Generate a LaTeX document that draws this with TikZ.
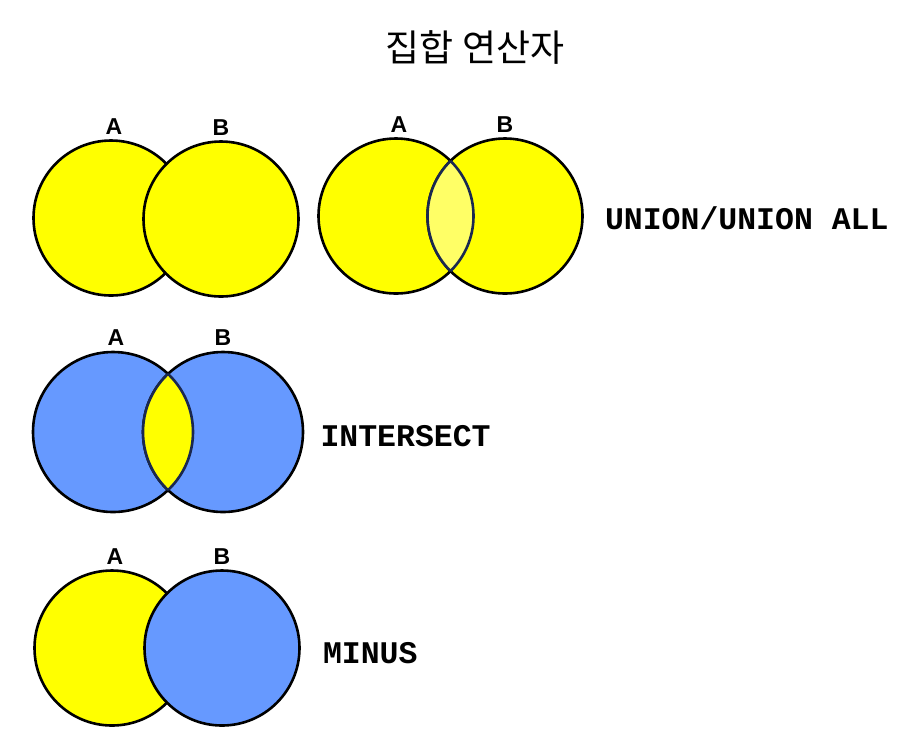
\documentclass[tikz,border=0pt]{standalone}
\usepackage{fontspec}
\setmainfont{Liberation Sans}
\setmonofont{Liberation Mono}
\newfontfamily\krfont{Noto Sans CJK KR}
\usetikzlibrary{positioning}
\definecolor{setyellow}{HTML}{FFFF00}
\definecolor{setblue}{HTML}{6699FF}
\definecolor{lensyellow}{HTML}{FFFF66}
\definecolor{lensline}{HTML}{1A2850}

\begin{document}
\begin{tikzpicture}[
  x=1pt, y=-1pt,
  venn/.style={circle, draw=black, line width=2.6pt, minimum size=155pt, inner sep=0pt},
  setname/.style={font=\fontsize{23}{23}\selectfont\bfseries, inner sep=0pt},
  opname/.style={font=\fontsize{31.5}{31.5}\selectfont\ttfamily\bfseries, inner sep=0pt},
  lens/.style={draw=lensline, line width=2.6pt}
]
\useasboundingbox (0,0) rectangle (920,740);
\node[font=\fontsize{37}{37}\selectfont\krfont] (title) at (475,47) {집합 연산자};

% UNION (no overlap shown)
\node[venn, fill=setyellow] (a1) at (111,218) {};
\node[venn, fill=setyellow] (b1) at (221,219) {};
\node[setname, above=5pt of a1, xshift=3pt] (la1) {A};
\node[setname, above=5pt of b1] (lb1) {B};

% UNION ALL (overlap shown)
\node[venn, fill=setyellow] (a2) at (396,216) {};
\node[venn, fill=setyellow] (b2) at (505,216) {};
\node[setname, above=5pt of a2, xshift=3pt] (la2) {A};
\node[setname, above=5pt of b2] (lb2) {B};
\begin{scope}
  \clip (a2.center) circle (77.5);
  \fill[lensyellow] (b2.center) circle (77.5);
  \draw[lens] (b2.center) circle (77.5);
\end{scope}
\begin{scope}
  \clip (b2.center) circle (77.5);
  \draw[lens] (a2.center) circle (77.5);
\end{scope}
\node[opname, right=21pt of b2, yshift=-2pt] (union) {UNION/UNION ALL};

% INTERSECT
\node[venn, fill=setblue, minimum size=160pt] (a3) at (113,432) {};
\node[venn, fill=setblue, minimum size=160pt] (b3) at (223,432) {};
\node[setname, above=5pt of a3, xshift=3pt] (la3) {A};
\node[setname, above=5pt of b3] (lb3) {B};
\begin{scope}
  \clip (a3.center) circle (80);
  \fill[setyellow] (b3.center) circle (80);
  \draw[lens] (b3.center) circle (80);
\end{scope}
\begin{scope}
  \clip (b3.center) circle (80);
  \draw[lens] (a3.center) circle (80);
\end{scope}
\node[opname, right=16pt of b3, yshift=-4pt] (intersect) {INTERSECT};

% MINUS
\node[venn, fill=setyellow] (a4) at (112,648) {};
\node[venn, fill=setblue] (b4) at (222,648) {};
\node[setname, above=5pt of a4, xshift=3pt] (la4) {A};
\node[setname, above=5pt of b4] (lb4) {B};
\node[opname, right=22pt of b4, yshift=-5pt] (minus) {MINUS};
\end{tikzpicture}
\end{document}
